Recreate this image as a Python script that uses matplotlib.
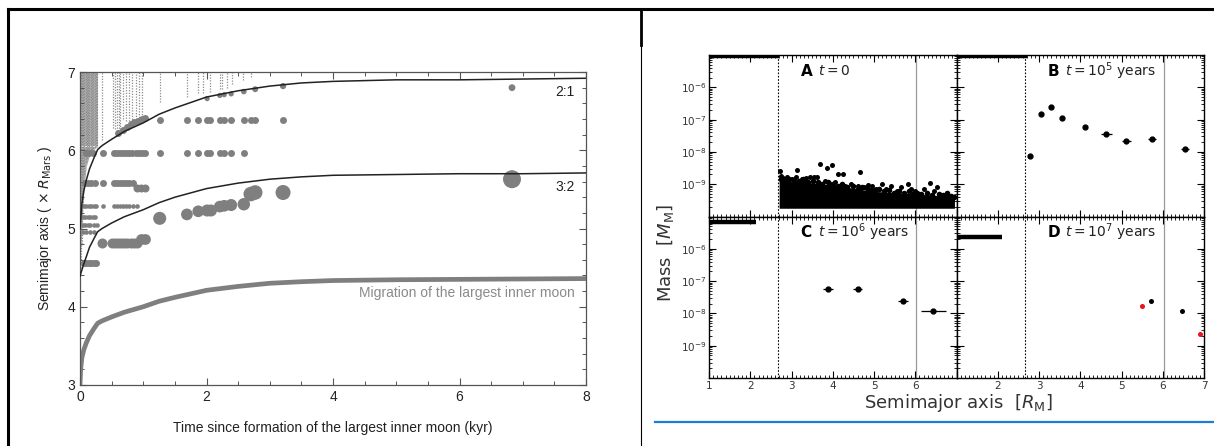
import numpy as np
import matplotlib
matplotlib.use("Agg")
import matplotlib.pyplot as plt
from matplotlib.lines import Line2D
from matplotlib.ticker import MultipleLocator, LogLocator, NullFormatter

plt.rcParams['font.family'] = ['Liberation Sans Narrow', 'Liberation Sans', 'DejaVu Sans']
plt.rcParams['mathtext.fontset'] = 'dejavusans'

# ---------------- left panel data (kyr, R_Mars) ----------------
moon_t = [0, 0.01, 0.03, 0.06, 0.1, 0.15, 0.22, 0.28, 0.35, 0.5, 0.7, 1.0, 1.25,
          1.5, 2.0, 2.5, 3.0, 3.5, 4.0, 5.0, 6.0, 7.0, 8.0]
moon_a = [3.0, 3.2, 3.35, 3.45, 3.54, 3.63, 3.72, 3.79, 3.82, 3.87, 3.93, 4.0, 4.07,
          4.12, 4.21, 4.26, 4.30, 4.32, 4.335, 4.345, 4.35, 4.355, 4.36]
res21_a = [5.0, 5.1, 5.32, 5.48, 5.62, 5.76, 5.9, 6.01, 6.06, 6.14, 6.24, 6.35, 6.46,
           6.54, 6.68, 6.76, 6.82, 6.86, 6.88, 6.9, 6.9, 6.91, 6.92]
res32_a = [4.39, 4.42, 4.47, 4.55, 4.64, 4.76, 4.87, 4.96, 5.0, 5.07, 5.15, 5.24, 5.33,
           5.4, 5.51, 5.58, 5.63, 5.66, 5.68, 5.69, 5.70, 5.70, 5.71]

# dense cloud of debris just after formation (time, lowest semimajor axis)
block_t = [0.0, 0.03, 0.06, 0.1, 0.15, 0.2, 0.28]
block_lo = [4.6, 5.0, 5.5, 5.8, 5.93, 6.0, 6.05]

# trails of tiny debris dots: column time and lowest semimajor axis
trail_t = [0.01, 0.03, 0.05, 0.07, 0.09, 0.11, 0.13, 0.15, 0.17, 0.19, 0.21, 0.23,
           0.25, 0.27, 0.35, 0.52, 0.55, 0.58, 0.61, 0.64, 0.68, 0.73, 0.78, 0.83,
           0.88, 0.93, 0.98, 1.26, 1.69, 1.87, 1.95, 2.06, 2.21, 2.25, 2.32, 2.40,
           2.58, 2.71]
trail_lo = [4.5, 4.8, 5.3, 5.7, 5.85, 5.9, 5.95, 5.98, 6.0, 6.02, 6.03, 6.04,
            6.05, 6.06, 6.13, 6.28, 6.27, 6.25, 6.24, 6.23, 6.4, 6.38, 6.38, 6.36,
            6.36, 6.35, 6.35, 6.62, 6.68, 6.73, 6.73, 6.75, 6.78, 6.78, 6.8, 6.85,
            6.9, 6.93]

row64_t = [0.6, 0.68, 0.75, 0.8, 0.86, 0.92, 0.98, 1.03, 1.26, 1.69, 1.87, 2.01,
           2.06, 2.21, 2.28, 2.39, 2.59, 2.70, 2.77, 3.21]
row64_a = [6.22, 6.26, 6.3, 6.33, 6.36, 6.38, 6.4, 6.41, 6.39, 6.39, 6.39, 6.39,
           6.39, 6.39, 6.39, 6.39, 6.39, 6.39, 6.39, 6.39]
row60_t = [0.1, 0.15, 0.2, 0.37, 0.53, 0.58, 0.63, 0.68, 0.73, 0.78, 0.83, 0.88,
           0.93, 0.98, 1.03, 1.26, 1.69, 1.87, 2.01, 2.06, 2.21, 2.28, 2.39, 2.59]
row558_t = [0.08, 0.13, 0.18, 0.23, 0.37, 0.53, 0.58, 0.63, 0.68, 0.73, 0.78, 0.84]
row552_t = [0.9, 0.96, 1.02]
row53_t = [0.06, 0.1, 0.14, 0.18, 0.22, 0.26, 0.37, 0.53, 0.58, 0.63, 0.68, 0.73,
           0.78, 0.84, 0.9]
row515_t = [0.04, 0.08, 0.12, 0.16, 0.2, 0.24]
row505_t = [0.04, 0.08, 0.12, 0.16, 0.22, 0.27]
row495_t = [0.05, 0.1, 0.16, 0.22]
row482_t = [0.34, 0.5, 0.55, 0.6, 0.65, 0.7, 0.75, 0.8, 0.85, 0.9]
row486_t = [0.97, 1.03]
row456_t = [0.06, 0.1, 0.14, 0.18, 0.22, 0.26]
upper_t = [2.01, 2.21, 2.28, 2.39, 2.59, 2.77, 3.21, 6.83]
upper_a = [6.66, 6.7, 6.71, 6.72, 6.75, 6.78, 6.82, 6.8]
grow_t = [1.26, 1.69, 1.87, 2.01, 2.07, 2.21, 2.28, 2.39, 2.59, 2.70, 2.77, 3.21, 6.83]
grow_a = [5.13, 5.18, 5.22, 5.23, 5.23, 5.28, 5.29, 5.30, 5.31, 5.44, 5.46, 5.46, 5.63]
grow_s = [88, 71, 71, 75, 75, 71, 71, 75, 80, 110, 110, 117, 168]

# ---------------- right panel data (R_M, M_M) ----------------
roche = 2.67
sync = 6.03
bar_end = [2.7, 2.7, 2.15, 2.1]
bar_mass = [9.3e-6, 9.3e-6, 6.7e-6, 2.3e-6]
a_env_x = [2.7, 3.0, 3.5, 4.0, 4.5, 5.0, 5.5, 6.0, 6.5, 6.95]
a_env_top = [1.3e-9, 1.2e-9, 1.1e-9, 9.5e-10, 7.5e-10, 6e-10, 5.5e-10, 5e-10, 4.5e-10, 4e-10]
a_env_bot = 1.8e-10
a_pts_x = [2.72, 3.14, 3.69, 3.85, 3.97, 4.13, 4.25, 4.67, 2.75, 2.8, 2.9, 3.0, 3.1,
           3.25, 3.35, 3.45, 3.55, 3.62, 3.3, 3.8, 3.9, 4.05, 4.3, 4.45, 4.6, 4.75,
           4.85, 4.95, 5.05, 5.2, 5.3, 5.42, 5.55, 5.66, 5.82, 5.9, 6.0, 6.1, 6.22,
           6.36, 6.45, 6.52, 6.62, 6.7, 6.8, 6.9]
a_pts_m = [2.5e-9, 2.7e-9, 4.1e-9, 3.2e-9, 4e-9, 2e-9, 2e-9, 2.4e-9, 1.8e-9, 1.6e-9,
           1.7e-9, 1.5e-9, 1.7e-9, 1.4e-9, 1.6e-9, 1.7e-9, 1.65e-9, 1.7e-9, 1.2e-9,
           1.3e-9, 1.1e-9, 1.2e-9, 9e-10, 1.0e-9, 9e-10, 8e-10, 9.5e-10, 9e-10, 7e-10,
           1.05e-9, 7e-10, 8.5e-10, 6e-10, 8e-10, 1.05e-9, 7e-10, 6e-10, 5e-10, 7e-10,
           1.1e-9, 6e-10, 8e-10, 4.6e-10, 3.8e-10, 4.3e-10, 3.2e-10]
# ragged top edge of the dense swarm
a_edge_x = [2.74, 2.85, 2.95, 3.05, 3.18, 3.28, 3.4, 3.52, 3.65, 3.75, 3.88, 4.0,
            4.12, 4.22, 4.35, 4.5, 4.62, 4.7, 4.82, 4.92, 5.02, 5.12, 5.25, 5.36,
            5.48, 5.6, 5.72, 5.85, 5.95, 6.05, 6.15, 6.28, 6.4, 6.58, 6.68, 6.76,
            6.86, 6.93]
a_edge_m = [1.5e-9, 1.35e-9, 1.45e-9, 1.3e-9, 1.25e-9, 1.4e-9, 1.2e-9, 1.3e-9,
            1.15e-9, 1.05e-9, 1.2e-9, 1.0e-9, 9e-10, 1.05e-9, 8e-10, 8.5e-10, 7e-10,
            8e-10, 7.5e-10, 6.5e-10, 6.5e-10, 7e-10, 6e-10, 6.5e-10, 5.5e-10, 6e-10,
            5.5e-10, 6e-10, 5e-10, 5.5e-10, 4.8e-10, 5.2e-10, 4.5e-10, 5e-10, 4.5e-10,
            5.5e-10, 4.2e-10, 4e-10]
b_x = [2.79, 3.06, 3.28, 3.56, 4.12, 4.63, 5.12, 5.74, 6.54]
b_m = [7.4e-9, 1.5e-7, 2.4e-7, 1.1e-7, 5.8e-8, 3.6e-8, 2.1e-8, 2.5e-8, 1.2e-8]
b_err = [0, 0, 0, 0, 0.03, 0.13, 0.1, 0.1, 0.1]
c_x = [3.89, 4.6, 5.7, 6.44]
c_m = [5.7e-8, 5.7e-8, 2.5e-8, 1.2e-8]
c_err = [0.12, 0.12, 0.12, 0.3]
d_x = [5.71, 6.46]
d_m = [2.5e-8, 1.2e-8]
d_red_x = [5.5, 6.9]
d_red_m = [1.7e-8, 2.3e-9]
panel_letters = ['A', 'B', 'C', 'D']
panel_times = [r'$t=0$', r'$t=10^5$ years', r'$t=10^6$ years', r'$t=10^7$ years']

W, H = 1214, 446
fig = plt.figure(figsize=(W / 100, H / 100), dpi=100)

def fx(px):
    return px / W

def fy(py):
    return 1 - py / H

# frame lines of the composite
fig.add_artist(Line2D([fx(8), 1], [fy(9), fy(9)], color='black', lw=2.2))
fig.add_artist(Line2D([fx(8), fx(8)], [fy(9), 0], color='black', lw=2.2))
fig.add_artist(Line2D([fx(641), fx(641)], [fy(9), fy(45)], color='black', lw=2.0))
fig.add_artist(Line2D([fx(641), fx(641)], [fy(45), 0], color='black', lw=0.8))
fig.add_artist(Line2D([fx(655), 1], [fy(422), fy(422)], color='#1a7fd4', lw=1.6))

# ---------------- left panel ----------------
gray = '#7f7f7f'
ax = fig.add_axes([fx(80), fy(385), fx(586 - 80), (385 - 72) / H])
ax.fill_betweenx(block_lo, 0, block_t, color='#ababab', lw=0, zorder=0)
ax.fill_between([0, 0.28], [6.05, 6.05], [7, 7], color='#ababab', lw=0, zorder=0)
for t, lo in zip(trail_t, trail_lo):
    ax.plot([t, t], [lo, 7.0], color='#8c8c8c', lw=0.9, ls=(0, (1, 1.2)), zorder=1)
ax.plot(moon_t, moon_a, color=gray, lw=3.4, solid_capstyle='butt', zorder=2)
ax.plot(moon_t, res21_a, color='#222222', lw=1.1, zorder=4)
ax.plot(moon_t, res32_a, color='#222222', lw=1.1, zorder=4)

ax.scatter(row64_t, row64_a, s=25, color=gray, lw=0, zorder=3)
ax.scatter(row60_t, [5.97] * len(row60_t), s=25, color=gray, lw=0, zorder=3)
ax.scatter(row558_t, [5.58] * len(row558_t), s=25, color=gray, lw=0, zorder=3)
ax.scatter(row552_t, [5.52] * len(row552_t), s=33, color=gray, lw=0, zorder=3)
ax.scatter(row53_t, [5.29] * len(row53_t), s=11, color=gray, lw=0, zorder=3)
ax.scatter(row515_t, [5.15] * len(row515_t), s=11, color=gray, lw=0, zorder=3)
ax.scatter(row505_t, [5.05] * len(row505_t), s=11, color=gray, lw=0, zorder=3)
ax.scatter(row495_t, [4.95] * len(row495_t), s=11, color=gray, lw=0, zorder=3)
ax.scatter(row482_t, [4.82] * len(row482_t), s=52, color=gray, lw=0, zorder=3)
ax.scatter(row486_t, [4.86] * len(row486_t), s=60, color=gray, lw=0, zorder=3)
ax.scatter(row456_t, [4.56] * len(row456_t), s=25, color=gray, lw=0, zorder=3)
ax.scatter(upper_t, upper_a, s=[14, 14, 14, 14, 16, 18, 20, 24], color=gray, lw=0, zorder=3)
ax.scatter(grow_t, grow_a, s=grow_s, color=gray, lw=0, zorder=3)

ax.text(7.82, 6.74, '2:1', ha='right', va='center', fontsize=10, color='#222222')
ax.text(7.82, 5.53, '3:2', ha='right', va='center', fontsize=10, color='#222222')
ax.text(7.82, 4.17, 'Migration of the largest inner moon', ha='right', va='center',
        fontsize=10, color='#8a8a8a')

ax.set_xlim(0, 8)
ax.set_ylim(3, 7)
ax.set_xticks([0, 2, 4, 6, 8])
ax.set_yticks([3, 4, 5, 6, 7])
ax.xaxis.set_minor_locator(MultipleLocator(0.5))
ax.yaxis.set_minor_locator(MultipleLocator(0.2))
ax.tick_params(which='both', direction='in', top=True, right=True, color='#555555',
               labelsize=10, labelcolor='#222222')
ax.tick_params(which='major', length=5, width=0.8)
ax.tick_params(which='minor', length=3, width=0.7)
for sp in ax.spines.values():
    sp.set_color('#555555')
    sp.set_linewidth(0.9)
ax.set_xlabel('Time since formation of the largest inner moon (kyr)', fontsize=10,
              color='#222222', labelpad=12)
ax.set_ylabel(r'Semimajor axis ( $\times$ $R_{\rm Mars}$ )', fontsize=10,
              color='#222222', labelpad=10)

# ---------------- right panels ----------------
rfont = ['DejaVu Sans']
pw = (1204 - 709) / 2
ph = (378 - 55) / 2
lefts = [709, 709 + pw, 709, 709 + pw]
tops = [55, 55, 55 + ph, 55 + ph]
axes = []
for i in range(4):
    a = fig.add_axes([fx(lefts[i]), fy(tops[i] + ph), fx(pw), ph / H])
    a.set_xlim(1, 7)
    a.set_yscale('log')
    a.set_ylim(1e-10, 1e-5)
    a.set_yticks([1e-9, 1e-8, 1e-7, 1e-6])
    a.yaxis.set_minor_locator(LogLocator(base=10, subs=np.arange(2, 10), numticks=20))
    a.yaxis.set_minor_formatter(NullFormatter())
    a.set_xticks([1, 2, 3, 4, 5, 6, 7])
    a.xaxis.set_minor_locator(MultipleLocator(0.1))
    a.tick_params(which='both', direction='in', top=True, right=True, color='black',
                  labelsize=7.5, labelcolor='#333333', pad=2)
    a.tick_params(which='major', length=5, width=0.8)
    a.tick_params(which='minor', length=2.5, width=0.6)
    for sp in a.spines.values():
        sp.set_linewidth(1.0)
    a.axvline(roche, color='black', lw=0.8, ls=(0, (1.5, 1.5)), zorder=1)
    a.axvline(sync, color='#9a9a9a', lw=0.9, zorder=1)
    a.plot([1, bar_end[i]], [bar_mass[i], bar_mass[i]], color='black', lw=3.2,
           solid_capstyle='butt', zorder=3)
    a.text(0.37, 0.9, panel_letters[i], transform=a.transAxes, fontsize=11,
           fontweight='bold', ha='left', va='center', family=rfont)
    a.text(0.44, 0.9, panel_times[i], transform=a.transAxes, fontsize=10,
           ha='left', va='center', family=rfont, color='#222222')
    if i in (0, 1):
        a.set_xticklabels([])
    if i in (1, 3):
        a.set_yticklabels([])
    for lab in a.get_xticklabels() + a.get_yticklabels():
        lab.set_family(rfont)
    axes.append(a)

axes[2].set_xticklabels(['1', '2', '3', '4', '5', '6', ''])
axes[3].set_xticklabels(['', '2', '3', '4', '5', '6', '7'])

aA, aB, aC, aD = axes
aA.fill_between(a_env_x, a_env_bot, a_env_top, color='black', lw=0, zorder=2)
aA.scatter(a_edge_x, a_edge_m, s=16, color='black', lw=0, zorder=2)
aA.scatter(a_pts_x, a_pts_m, s=13, color='black', lw=0, zorder=2)
aB.errorbar(b_x, b_m, xerr=b_err, fmt='o', ms=3.5, color='black', elinewidth=0.9,
            capsize=0, zorder=3)
aC.errorbar(c_x, c_m, xerr=c_err, fmt='o', ms=3.5, color='black', elinewidth=0.9,
            capsize=0, zorder=3)
aD.scatter(d_x, d_m, s=13, color='black', lw=0, zorder=3)
aD.scatter(d_red_x, d_red_m, s=13, color='#e8141c', lw=0, zorder=3)

fig.text(fx(666), fy(253), r'Mass  [$M_{\rm M}$]', rotation=90, ha='center',
         va='center', fontsize=13, family=rfont, color='#333333')
fig.text(fx(958), fy(403), r'Semimajor axis  [$R_{\rm M}$]', ha='center',
         va='center', fontsize=13, family=rfont, color='#333333')

fig.savefig('out.png', dpi=100)
